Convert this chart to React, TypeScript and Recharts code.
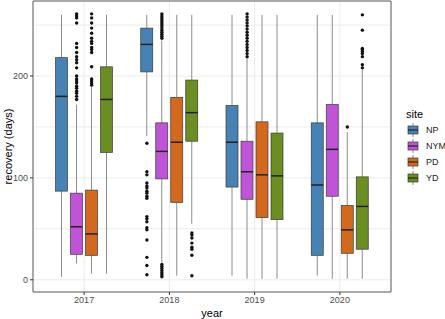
import React from "react";
import {
  Bar,
  CartesianGrid,
  ComposedChart,
  Legend,
  ReferenceArea,
  Scatter,
  XAxis,
  YAxis,
} from "recharts";

const years = ["2017", "2018", "2019", "2020"];
const sites = ["NP", "NYM", "PD", "YD"];
const siteColors = ["#4682B4", "#BF55D6", "#D2691E", "#6B8E23"];

// per year: [lower whisker, Q1, median, Q3, upper whisker]
const npStats = [
  [3, 87, 180, 218, 260],
  [141, 204, 231, 247, 260],
  [4, 91, 135, 171, 260],
  [4, 24, 93, 154, 260],
];
const nymStats = [
  [16, 25, 52, 85, 172],
  [17, 99, 126, 154, 235],
  [1, 79, 106, 136, 218],
  [1, 82, 128, 172, 260],
];
const pdStats = [
  [6, 24, 45, 88, 189],
  [4, 76, 135, 179, 260],
  [1, 61, 103, 155, 260],
  [1, 26, 49, 73, 145],
];
const ydStats = [
  [6, 125, 177, 209, 260],
  [55, 136, 164, 196, 260],
  [1, 59, 102, 144, 260],
  [1, 30, 72, 101, 206],
];

// outliers per year
const npOutliers = [
  [],
  [134, 106, 103, 95, 92, 90, 87, 85, 82, 80, 62, 60, 57, 51, 49, 39, 22, 14, 5],
  [],
  [],
];
const nymOutliers = [
  [261, 259, 257, 252, 232, 228, 223, 219, 216, 213, 208, 200, 197, 195, 193, 190, 188, 185, 183, 180, 177],
  [261, 259, 257, 255, 253, 251, 249, 247, 245, 243, 241, 239, 237, 15, 13, 11, 9, 7, 5, 3],
  [261, 258, 255, 252, 249, 246, 243, 240, 237, 234, 231, 228, 225, 222, 219],
  [],
];
const pdOutliers = [
  [261, 257, 252, 247, 242, 237, 234, 232, 228, 226, 223, 209, 197, 195, 193, 191],
  [],
  [],
  [150],
];
const ydOutliers = [
  [],
  [46, 44, 41, 36, 32, 30, 24, 4],
  [],
  [260, 245, 227, 226, 224, 222, 219, 211, 208],
];

const allStats = [npStats, nymStats, pdStats, ydStats];
const allOutliers = [npOutliers, nymOutliers, pdOutliers, ydOutliers];
const dodge = [-0.264, -0.088, 0.088, 0.264];

const chartData = years.map((year, i) => {
  const row: any = { year };
  sites.forEach((s, k) => {
    const st = allStats[k][i];
    row[s] = [st[1], st[3]];
    row[s + "_stats"] = st;
  });
  return row;
});

const outlierData = sites.map((s, k) => {
  const pts: any[] = [];
  allOutliers[k].forEach((vals, i) => {
    vals.forEach((v) => pts.push({ x: i + 1 + dodge[k], y: v }));
  });
  return pts;
});

const makeBox = (site: string, color: string) => (props: any) => {
  const { x, y, width, height, payload } = props;
  const st = payload[site + "_stats"];
  const top = Math.min(y, y + height);
  const h = Math.abs(height);
  const ppu = h / (st[3] - st[1]);
  const cx = x + width / 2;
  const yHigh = top - (st[4] - st[3]) * ppu;
  const yLow = top + h + (st[1] - st[0]) * ppu;
  const yMed = top + (st[3] - st[2]) * ppu;
  return (
    <g>
      <line x1={cx} x2={cx} y1={yHigh} y2={top} stroke="#8c8c8c" strokeWidth={1} />
      <line x1={cx} x2={cx} y1={top + h} y2={yLow} stroke="#8c8c8c" strokeWidth={1} />
      <rect x={x} y={top} width={width} height={h} fill={color} stroke="#3a3a3a" strokeWidth={0.7} />
      <line x1={x} x2={x + width} y1={yMed} y2={yMed} stroke="#222" strokeWidth={1.5} />
    </g>
  );
};

const SiteLegend = () => (
  <div style={{ width: 54, fontFamily: "Liberation Sans, Arial, sans-serif" }}>
    <div style={{ transform: "translateX(15px)" }}>
      <div style={{ fontSize: 11, color: "#000", height: 16, lineHeight: "16px" }}>site</div>
      {sites.map((s, k) => (
        <div key={s} style={{ display: "flex", alignItems: "center", height: 16 }}>
          <svg width={16} height={16}>
            <line x1={7} x2={7} y1={1} y2={15} stroke="#8c8c8c" />
            <rect x={2} y={4} width={10} height={8} fill={siteColors[k]} stroke="#3a3a3a" strokeWidth={0.7} />
            <line x1={2} x2={12} y1={8} y2={8} stroke="#222" strokeWidth={1.2} />
          </svg>
          <span style={{ fontSize: 9, color: "#1a1a1a", marginLeft: 4 }}>{s}</span>
        </div>
      ))}
    </div>
  </div>
);

const App = () => {
  return (
    <div style={{ position: "absolute", left: 0, top: 0 }}>
      <ComposedChart
        width={445}
        height={319}
        data={chartData}
        margin={{ top: 1, right: 0, bottom: 0, left: 0 }}
        barSize={12}
        barGap={3}
        style={{ fontFamily: "Liberation Sans, Arial, sans-serif" }}
      >
        <CartesianGrid
          xAxisId="num"
          stroke="#ebebeb"
          horizontalValues={[0, 50, 100, 150, 200, 250]}
          verticalValues={[1, 2, 3, 4]}
        />
        <XAxis
          xAxisId="cat"
          dataKey="year"
          type="category"
          height={27}
          padding={{ left: 8.5, right: 8.5 }}
          axisLine={false}
          tickSize={3}
          tickLine={{ stroke: "#333" }}
          tick={{ fontSize: 9, fill: "#4d4d4d" }}
          label={{ value: "year", position: "insideBottom", offset: 2, fontSize: 11, fill: "#000" }}
        />
        <XAxis xAxisId="num" dataKey="x" type="number" domain={[0.4, 4.6]} hide allowDataOverflow />
        <YAxis
          width={33}
          type="number"
          domain={[-12, 273.6]}
          ticks={[0, 100, 200]}
          allowDataOverflow
          axisLine={false}
          tickSize={3}
          tickLine={{ stroke: "#333" }}
          tick={{ fontSize: 9, fill: "#4d4d4d" }}
          label={{
            value: "recovery (days)",
            angle: -90,
            position: "insideLeft",
            offset: 8,
            fontSize: 11,
            fill: "#000",
            style: { textAnchor: "middle" },
          }}
        />
        {sites.map((s, k) => (
          <Bar
            key={s}
            xAxisId="cat"
            dataKey={s}
            fill={siteColors[k]}
            isAnimationActive={false}
            shape={makeBox(s, siteColors[k])}
            legendType="none"
          />
        ))}
        {sites.map((s, k) => (
          <Scatter
            key={s + "_out"}
            xAxisId="num"
            data={outlierData[k]}
            dataKey="y"
            isAnimationActive={false}
            legendType="none"
            shape={(p: any) => <circle cx={p.cx} cy={p.cy} r={1.7} fill="#111" />}
          />
        ))}
        <ReferenceArea
          xAxisId="num"
          x1={0.4}
          x2={4.6}
          y1={-12}
          y2={273.6}
          fill="none"
          fillOpacity={0}
          stroke="#555"
          strokeWidth={1}
          ifOverflow="visible"
        />
        <Legend
          layout="vertical"
          align="right"
          verticalAlign="top"
          wrapperStyle={{ top: 106, width: 54 }}
          content={() => <SiteLegend />}
        />
      </ComposedChart>
    </div>
  );
};

export default App;
